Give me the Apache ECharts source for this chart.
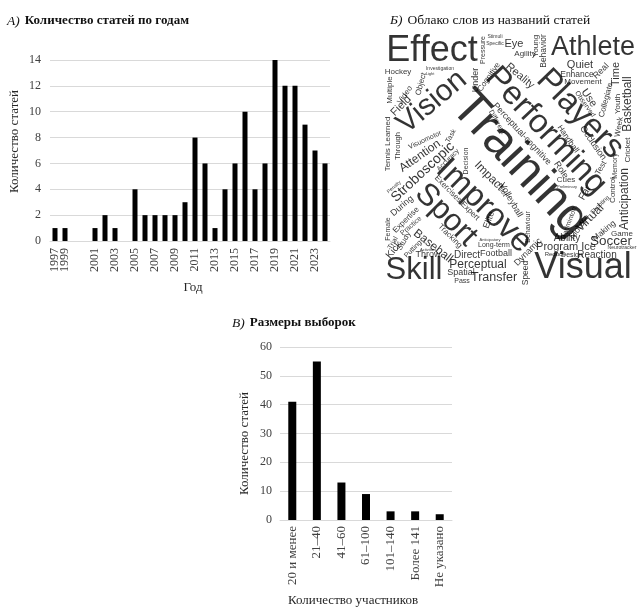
<!DOCTYPE html>
<html><head><meta charset="utf-8">
<script src="https://cdn.jsdelivr.net/npm/echarts/dist/echarts.min.js"></script>
<style>html,body{margin:0;padding:0;background:#fff}#c{width:640px;height:611px}</style>
</head><body><div id="c"></div>
<script>
// ---- Chart А: articles per year ----
const yearCategories = ['1997','1999','gap1','gap2','2001','2002','2003','2004','2005','2006','2007','2008','2009','2010','2011','2012','2013','2014','2015','2016','2017','2018','2019','2020','2021','2022','2023','2024'];
const yearTickLabels = ['1997','1999','','','2001','','2003','','2005','','2007','','2009','','2011','','2013','','2015','','2017','','2019','','2021','','2023',''];
const yearCounts = [1,1,0,0,1,2,1,0,4,2,2,2,2,3,8,6,1,4,6,10,4,6,14,12,12,9,7,6];
const yearTicks = {min:0, max:14, interval:2};

// ---- Chart В: sample sizes ----
const sampleCategories = ['20 и менее','21–40','41–60','61–100','101–140','Более 141','Не указано'];
const sampleCounts = [41,55,13,9,3,3,2];
const sampleTicks = {min:0, max:60, interval:10};

// ---- Chart Б: word cloud (word, weight) ----
const cloudWords = ['Effect','Athlete','Training','Performing','Players','Vision','Improve','Sport','Skill','Visual',
 'Stroboscopic','Attention','Baseball','Perceptual','Transfer','Soccer','Anticipation','Basketball','Time','Quiet',
 'Eye','Reality','Use','Virtual','Impact','Direct','Football','Program Ice','Reaction','Ability',
 'Field','Hockey','Multiple','Video','Object','Visuomotor','Tennis Learned','Through','Under','Pressure',
 'Cognitive','Stimuli','Specific','Investigation','Light','Agility','Young','Behavior','Enhance','Movement',
 'Real','Collegiate','Youth','Week','Cricket','Observed','Handball','Occlusion','Perceptual-cognitive','Different',
 'Task','Accuracy','Decision','Role','Cues','Far','Test','Memory','Control','Shooting',
 'Making','Badminton','Motor','Game','Neurotracker','Design','Reduce','Dynamic','Behaviour','Volleyball',
 'Pilot','Elite','Long-term','Anticipatory','Speed','Spatial','Pass','Throw','Activities','Kick',
 'Trial','Study','Putting','Practice','Expertise','During','Female','Penalty','Tracking','Exercises Expert','Preliminary'];
const cloudWeights = [36,27,50,33,33,30,33,31,31,36,
 14,12,12,12,12.5,13.5,12,12,11,11,
 11,11,11,12,12,10,9,11,10,10,
 11,8,8,8,8,7,8,7.5,9,7,
 8,5,5,5,4,8,8,8.5,8.5,8,
 9,8,8,8,8,7,8,9,9,7,
 7,7,7,9,8,10,8,7,8,6,
 8.5,7,9,8,5,7,6,9,7,9,
 7,9,7,4,8.5,9,7,9,4,10,
 7,8,7,7,8,9,7,5,8,8,4];
// layout of the cloud: [x, y, angle] per word (in the cloud's own coordinate space)
const cloudLayout = [[432,51,0],[593,48,0],[520,164,-47],[546,131,-47],[580,114,-46],[432,102,40],[484,206,-44],[446,215,-45],[414,270,0],[583,268,0],
 [423,172,43],[420,156,35],[433,246,-38],[478,265,0],[494,278,0],[611,241,0],[625,199,90],[628,104,90],[616,74,90],[580,65,0],
 [514,44,0],[520,76,-40],[589,98,-55],[590,218,45],[489,176,-45],[467,255,0],[496,254,0],[566,247,0],[597,255,0],[567,238,0],
 [401,106,45],[398,72,0],[390,90,90],[405,95,55],[421,84,75],[425,140,25],[388,144,90],[398,146,90],[476,80,90],[483,50,90],
 [489,77,55],[495,37,0],[495,44,0],[440,69,0],[430,74,0],[525,54,0],[536,46,90],[544,51,90],[577,75,0],[583,82,0],
 [601,71,45],[606,100,75],[618,104,90],[619,127,80],[628,150,90],[585,104,-55],[568,139,-55],[593,143,-55],[522,134,-47],[497,122,-60],
 [451,136,60],[448,160,45],[466,161,90],[561,170,-55],[566,180,0],[585,193,60],[601,168,60],[615,166,90],[613,190,90],[600,205,45],
 [604,231,40],[569,223,70],[578,229,55],[622,234,0],[622,248,0],[572,255,0],[555,254,0],[528,252,45],[528,227,90],[511,200,-60],
 [502,190,-60],[489,220,70],[494,245,0],[490,240,0],[526,273,90],[461,273,0],[462,281,0],[428,255,0],[428,250,0],[394,250,50],
 [393,243,60],[404,241,60],[413,249,45],[411,226,40],[406,220,45],[402,206,40],[388,229,90],[394,187,40],[450,236,-45],[457,198,-45],[567,187,0]];

const SERIF = '"Liberation Serif","Times New Roman",serif';
const SANS = '"Liberation Sans",Arial,sans-serif';
const tickColor = '#404040';
const gridColor = '#d9d9d9';

const cloudData = cloudWords.map((w, i) => ({
  name: w,
  value: [cloudLayout[i][0], cloudLayout[i][1]],
  label: { fontSize: cloudWeights[i], rotate: cloudLayout[i][2] }
}));

const chart = echarts.init(document.getElementById('c'), null, {renderer: 'canvas'});
const titleRich = (bold) => ({
  i: {fontFamily: SERIF, fontStyle: 'italic', fontWeight: 'normal', fontSize: 13.5, color: '#111'},
  t: {fontFamily: SERIF, fontWeight: bold ? 'bold' : 'normal', fontSize: bold ? 13 : 13.5, color: '#111'}
});

chart.setOption({
  animation: false,
  backgroundColor: '#fff',
  title: [
    {text: '{i|А)} {t|Количество статей по годам}', left: 2, top: 7, textStyle: {rich: titleRich(true)}},
    {text: '{i|Б)} {t|Облако слов из названий статей}', left: 385, top: 6, textStyle: {rich: titleRich(false)}},
    {text: '{i|В)} {t|Размеры выборок}', left: 227, top: 309, textStyle: {rich: titleRich(true)}}
  ],
  grid: [
    {left: 50, top: 60, width: 280, height: 181},
    {left: 378, top: 33, width: 258, height: 257},
    {left: 280, top: 347, width: 172, height: 173}
  ],
  xAxis: [
    {gridIndex: 0, type: 'category', data: yearCategories,
     name: 'Год', nameLocation: 'middle', nameGap: 40,
     nameTextStyle: {fontFamily: SERIF, fontSize: 13, color: '#262626', padding: [0,0,0,6]},
     axisLine: {lineStyle: {color: gridColor}}, axisTick: {show: false},
     axisLabel: {interval: 0, rotate: 90, margin: 7, fontFamily: SERIF, fontSize: 12, color: tickColor,
       formatter: (v, i) => yearTickLabels[i]}},
    {gridIndex: 1, type: 'value', min: 378, max: 636, show: false},
    {gridIndex: 2, type: 'category', data: sampleCategories,
     name: 'Количество участников', nameLocation: 'middle', nameGap: 74,
     nameTextStyle: {fontFamily: SERIF, fontSize: 13, color: '#262626', padding: [0,26,0,0]},
     axisLine: {lineStyle: {color: gridColor}}, axisTick: {show: false},
     axisLabel: {interval: 0, rotate: 90, margin: 6, fontFamily: SERIF, fontSize: 13, color: tickColor}}
  ],
  yAxis: [
    {gridIndex: 0, type: 'value', min: yearTicks.min, max: yearTicks.max, interval: yearTicks.interval,
     name: 'Количество статей', nameLocation: 'middle', nameGap: 29,
     nameTextStyle: {fontFamily: SERIF, fontSize: 13, color: '#262626', padding: [0,0,0,18]},
     axisLine: {show: false}, axisTick: {show: false},
     splitLine: {lineStyle: {color: gridColor}},
     axisLabel: {margin: 9, fontFamily: SERIF, fontSize: 12, color: tickColor}},
    {gridIndex: 1, type: 'value', min: 33, max: 290, inverse: true, show: false},
    {gridIndex: 2, type: 'value', min: sampleTicks.min, max: sampleTicks.max, interval: sampleTicks.interval,
     name: 'Количество статей', nameLocation: 'middle', nameGap: 29,
     nameTextStyle: {fontFamily: SERIF, fontSize: 13, color: '#262626', padding: [0,20,0,0]},
     axisLine: {show: false}, axisTick: {show: false},
     splitLine: {lineStyle: {color: gridColor}},
     axisLabel: {margin: 8, fontFamily: SERIF, fontSize: 12, color: tickColor}}
  ],
  series: [
    {type: 'bar', xAxisIndex: 0, yAxisIndex: 0, data: yearCounts, barWidth: 5, itemStyle: {color: '#000'}},
    {type: 'scatter', xAxisIndex: 1, yAxisIndex: 1, data: cloudData, symbolSize: 1, silent: true,
     itemStyle: {color: 'rgba(0,0,0,0)'},
     label: {show: true, position: 'inside', formatter: '{b}', fontFamily: SANS, color: '#000',
       align: 'center', verticalAlign: 'middle'}},
    {type: 'bar', xAxisIndex: 2, yAxisIndex: 2, data: sampleCounts, barWidth: 8, itemStyle: {color: '#000'}}
  ]
});
</script></body></html>
